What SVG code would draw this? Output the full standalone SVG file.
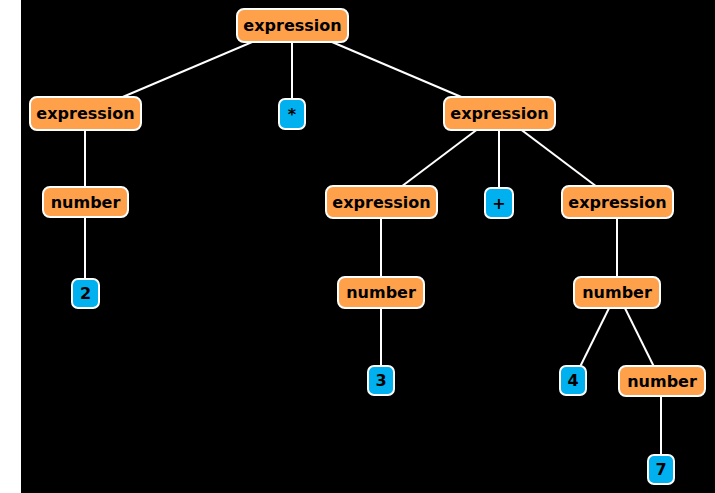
<svg xmlns="http://www.w3.org/2000/svg" width="715" height="493" viewBox="0 0 715 493">
<style>
.n rect{fill:#ffa04a;stroke:#fff;stroke-width:2}
.t rect{fill:#00b0ef;stroke:#fff;stroke-width:2}
text{font-family:"DejaVu Sans","Liberation Sans",sans-serif;font-weight:bold;font-size:16px;fill:#000;text-anchor:middle;dominant-baseline:central}
#edges line{stroke:#fff;stroke-width:2}
</style>
<rect x="0" y="0" width="715" height="493" fill="#000"/>
<rect x="0" y="0" width="21" height="493" fill="#fff"/>
<g id="edges">
<line x1="292" y1="25" x2="85" y2="113"/>
<line x1="292" y1="25" x2="292" y2="114"/>
<line x1="292" y1="25" x2="499" y2="113"/>
<line x1="85" y1="113" x2="85" y2="202"/>
<line x1="85" y1="202" x2="85" y2="293"/>
<line x1="499" y1="113" x2="381" y2="202"/>
<line x1="499" y1="113" x2="499" y2="203"/>
<line x1="499" y1="113" x2="617" y2="202"/>
<line x1="381" y1="202" x2="381" y2="292"/>
<line x1="381" y1="292" x2="381" y2="381"/>
<line x1="617" y1="202" x2="617" y2="292"/>
<line x1="617" y1="292" x2="573" y2="381"/>
<line x1="617" y1="292" x2="661" y2="381"/>
<line x1="661" y1="381" x2="661" y2="469"/>
</g>
<g id="n1" class="n"><rect x="237" y="9" width="111" height="33" rx="7"/><text x="292.5" y="25.5">expression</text></g>
<g id="n2" class="n"><rect x="30" y="97" width="111" height="33" rx="7"/><text x="85.5" y="113.5">expression</text></g>
<g id="n3" class="t"><rect x="279" y="99" width="26" height="30" rx="6"/><text x="292" y="114">*</text></g>
<g id="n4" class="n"><rect x="444" y="97" width="111" height="33" rx="7"/><text x="499.5" y="113.5">expression</text></g>
<g id="n5" class="n"><rect x="43" y="187" width="85" height="30" rx="7"/><text x="85.5" y="202">number</text></g>
<g id="n6" class="t"><rect x="72" y="279" width="27" height="29" rx="6"/><text x="85.5" y="293.5">2</text></g>
<g id="n7" class="n"><rect x="326" y="186" width="111" height="32" rx="7"/><text x="381.5" y="202">expression</text></g>
<g id="n8" class="t"><rect x="485" y="188" width="28" height="30" rx="6"/><text x="499" y="203">+</text></g>
<g id="n9" class="n"><rect x="562" y="186" width="111" height="32" rx="7"/><text x="617.5" y="202">expression</text></g>
<g id="n10" class="n"><rect x="338" y="277" width="86" height="31" rx="7"/><text x="381" y="292.5">number</text></g>
<g id="n11" class="n"><rect x="574" y="277" width="86" height="31" rx="7"/><text x="617" y="292.5">number</text></g>
<g id="n12" class="t"><rect x="368" y="366" width="26" height="29" rx="6"/><text x="381" y="380.5">3</text></g>
<g id="n13" class="t"><rect x="560" y="366" width="26" height="29" rx="6"/><text x="573" y="380.5">4</text></g>
<g id="n14" class="n"><rect x="619" y="366" width="86" height="30" rx="7"/><text x="662" y="381">number</text></g>
<g id="n15" class="t"><rect x="648" y="455" width="26" height="29" rx="6"/><text x="661" y="469.5">7</text></g>
</svg>
